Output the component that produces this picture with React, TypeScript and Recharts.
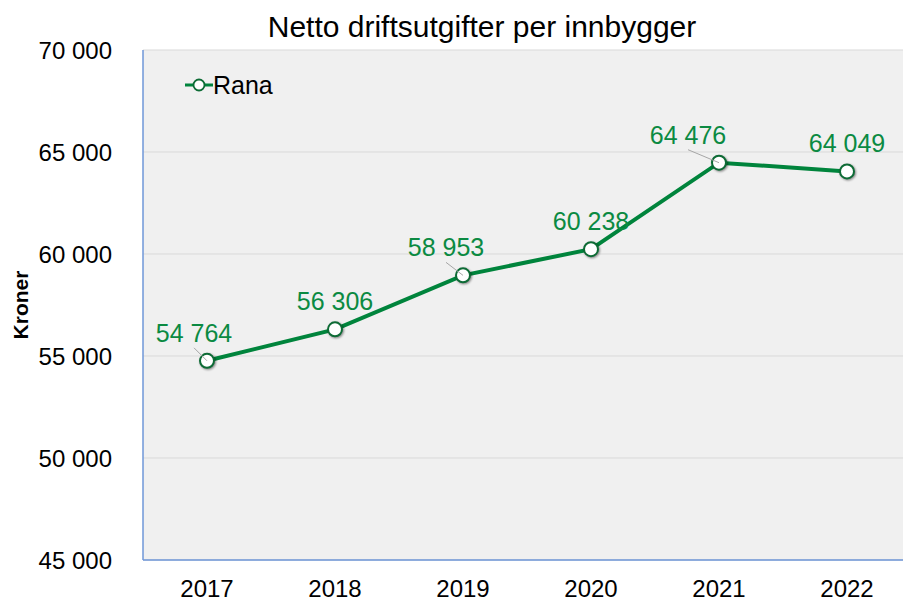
import React from 'react';
import { LineChart, Line, XAxis, YAxis, CartesianGrid, LabelList } from 'recharts';

const years = ['2017', '2018', '2019', '2020', '2021', '2022'];
const rana = [54764, 56306, 58953, 60238, 64476, 64049];
const yTicks = [45000, 50000, 55000, 60000, 65000, 70000];
const labelShiftX = [-13, 0, -17, 0, -31, 0];

const data = years.map((y, i) => ({ year: y, Rana: rana[i] }));

const GREEN = '#00843c';
const LABEL_GREEN = '#0b8a42';
const AXIS_BLUE = '#6f97d8';
const FONT = 'Liberation Sans, Arial, sans-serif';

const fmt = (v: number) => String(v).replace(/\B(?=(\d{3})+(?!\d))/g, ' ');

const Dot = (props: any) => {
  const { cx, cy } = props;
  if (cx == null || cy == null) return null;
  return (
    <circle
      cx={cx}
      cy={cy}
      r={7}
      fill="#ffffff"
      stroke="#0d6b35"
      strokeWidth={2}
      style={{ filter: 'drop-shadow(1.5px 1.5px 1px rgba(0,0,0,0.45))' }}
    />
  );
};

const ValueLabel = (props: any) => {
  const { x, y, value, index } = props;
  const dx = labelShiftX[index] || 0;
  return (
    <g>
      {dx !== 0 && (
        <line x1={x + dx} y1={y - 13} x2={x} y2={y} stroke="#a6a6a6" strokeWidth={1} />
      )}
      <text
        x={x + dx}
        y={y - 19}
        textAnchor="middle"
        fill={LABEL_GREEN}
        fontSize={25}
        fontFamily={FONT}
      >
        {fmt(value)}
      </text>
    </g>
  );
};

const YLabel = (props: any) => {
  const { viewBox } = props;
  const cy = viewBox.y + viewBox.height / 2;
  const cx = 28;
  return (
    <text
      x={cx}
      y={cy}
      transform={`rotate(-90, ${cx}, ${cy})`}
      textAnchor="middle"
      fontFamily={FONT}
      fontWeight="bold"
      fontSize={21}
      fill="#000"
    >
      Kroner
    </text>
  );
};

export default function App() {
  return (
    <div style={{ position: 'absolute', left: 0, top: 0, width: 903, height: 601, overflow: 'hidden', background: '#fff' }}>
      <div
        style={{
          position: 'absolute',
          left: 182,
          width: 600,
          top: 12,
          textAlign: 'center',
          fontFamily: FONT,
          fontSize: 30,
          lineHeight: '30px',
          color: '#000',
          zIndex: 2,
          whiteSpace: 'nowrap',
        }}
      >
        Netto driftsutgifter per innbygger
      </div>
      <div
        style={{
          position: 'absolute',
          left: 185,
          top: 70,
          display: 'flex',
          alignItems: 'center',
          fontFamily: FONT,
          fontSize: 25,
          lineHeight: '30px',
          color: '#000',
          zIndex: 2,
        }}
      >
        <svg width={28} height={16} style={{ display: 'block' }}>
          <line x1={0} y1={8} x2={28} y2={8} stroke={GREEN} strokeWidth={3} />
          <circle cx={14} cy={8} r={5.5} fill="#fff" stroke="#0d6b35" strokeWidth={1.8} />
        </svg>
        <span>Rana</span>
      </div>
      <LineChart
        width={920}
        height={601}
        data={data}
        margin={{ top: 50, right: 9, bottom: 0, left: 0 }}
      >
        <CartesianGrid vertical={false} stroke="#d9d9d9" fill="#f0f0f0" />
        <XAxis
          dataKey="year"
          scale="band"
          height={41}
          tickSize={0}
          tickMargin={20}
          axisLine={{ stroke: AXIS_BLUE, strokeWidth: 1.5 }}
          tickLine={false}
          tick={{ fill: '#000', fontSize: 24, fontFamily: FONT }}
          interval={0}
        />
        <YAxis
          width={143}
          domain={[45000, 70000]}
          ticks={yTicks}
          tickFormatter={fmt}
          tickSize={0}
          tickMargin={31}
          axisLine={{ stroke: AXIS_BLUE, strokeWidth: 1.5 }}
          tickLine={false}
          tick={{ fill: '#000', fontSize: 24, fontFamily: FONT }}
          label={<YLabel />}
        />
        <Line
          type="linear"
          dataKey="Rana"
          stroke={GREEN}
          strokeWidth={4}
          dot={<Dot />}
          activeDot={false}
          isAnimationActive={false}
        >
          <LabelList dataKey="Rana" content={<ValueLabel />} />
        </Line>
      </LineChart>
    </div>
  );
}
